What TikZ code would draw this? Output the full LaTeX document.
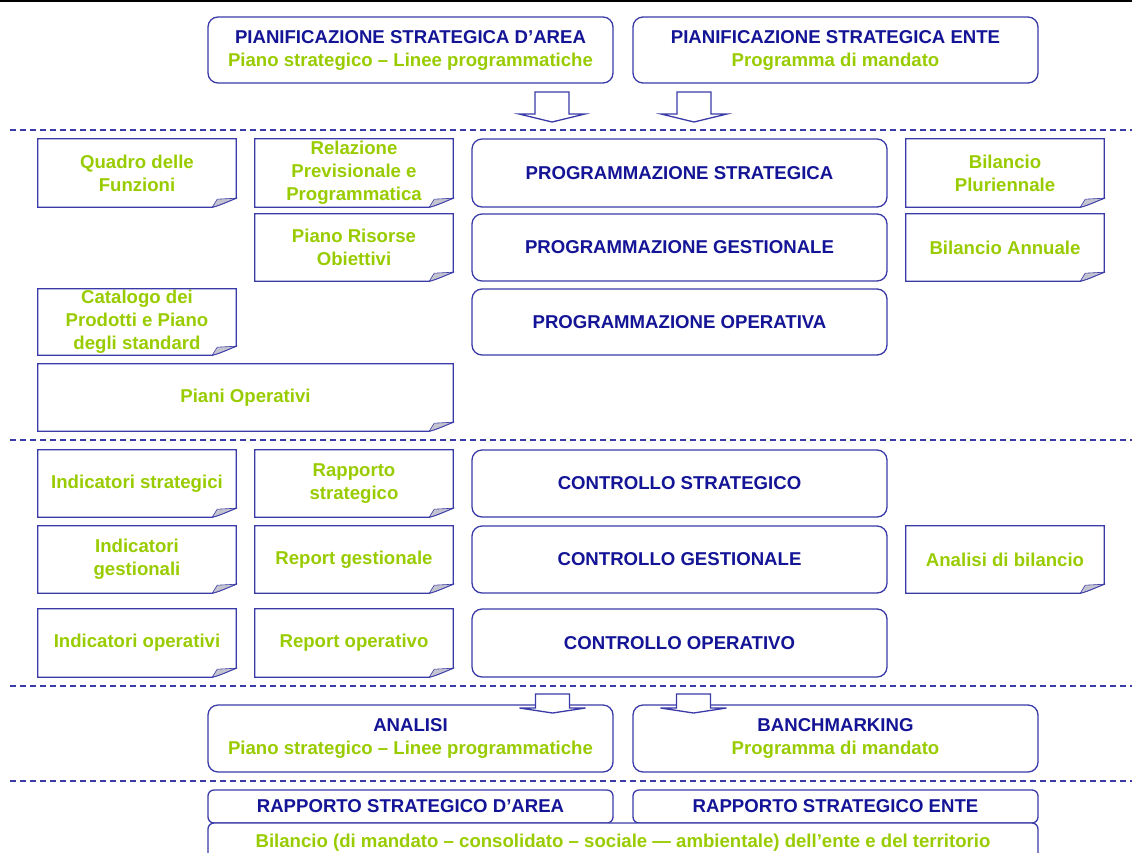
\documentclass[tikz,border=0pt]{standalone}
\usepackage{fontspec}
\setmainfont{Liberation Sans}
\usetikzlibrary{shapes,arrows}

\definecolor{titleblue}{RGB}{20,20,150}
\definecolor{leafgreen}{RGB}{153,204,0}
\definecolor{framecol}{RGB}{58,58,168}
\definecolor{flapgray}{RGB}{196,196,208}

\newcommand{\curl}[1]{%
  \draw[framecol, line width=1.3pt] (#1.north west) -- (#1.north east) -- ([yshift=9pt]#1.south east)
    .. controls ([xshift=-8pt,yshift=6pt]#1.south east) and ([xshift=-16pt,yshift=2pt]#1.south east) .. ([xshift=-24pt]#1.south east)
    -- (#1.south west) -- cycle;
  \filldraw[fill=flapgray, draw=framecol, line width=0.6pt] ([xshift=-24pt]#1.south east) -- ([xshift=-19pt,yshift=8pt]#1.south east) -- ([yshift=9pt]#1.south east)
    .. controls ([xshift=-8pt,yshift=6pt]#1.south east) and ([xshift=-16pt,yshift=2pt]#1.south east) .. ([xshift=-24pt]#1.south east) -- cycle;}
\newcommand{\blockarrow}[4]{%
  \filldraw[fill=white, draw=framecol, line width=1.3pt] (#1-17,#2) -- (#1+17,#2) -- (#1+17,#3) -- (#1+33,#3) -- (#1,#4) -- (#1-33,#3) -- (#1-17,#3) -- cycle;}

\begin{document}
\begin{tikzpicture}[x=1pt, y=-1pt, every node/.style={font=\bfseries\fontsize{18.6pt}{23pt}\selectfont, align=center}]
\tikzstyle{stagebox}=[draw=framecol, line width=1.3pt, rounded corners=10pt, inner sep=0pt, text=titleblue, fill=white]
\tikzstyle{sheet}=[inner sep=0pt, text=leafgreen, minimum width=198pt]
\tikzstyle{sepline}=[draw=framecol, line width=1.2pt, dash pattern=on 6pt off 4pt]

\clip (0,0) rectangle (1132,852);
\draw[line width=3pt] (0,0) -- (1132,0);

\node[stagebox, minimum width=405pt, minimum height=66pt] (PianA) at (410.5,50) {PIANIFICAZIONE STRATEGICA D’AREA\\\color{leafgreen}Piano strategico – Linee programmatiche};
\node[stagebox, minimum width=405pt, minimum height=66pt] (PianE) at (835.5,50) {PIANIFICAZIONE STRATEGICA ENTE\\\color{leafgreen}Programma di mandato};
\blockarrow{552}{92}{114}{122}
\blockarrow{694}{92}{114}{122}

\draw[sepline] (10,130) -- (1132,130);

\node[sheet, minimum height=68pt] (QuadroF) at (137,173) {Quadro delle\\Funzioni};
\node[sheet, minimum height=68pt] (RelPP) at (354,173) {Relazione\\Previsionale e\\Programmatica};
\node[stagebox, minimum width=415pt, minimum height=68pt] (ProgS) at (679.5,173) {PROGRAMMAZIONE STRATEGICA};
\node[sheet, minimum height=68pt] (BilP) at (1005,173) {Bilancio\\Pluriennale};

\node[sheet, minimum height=67pt] (PianoRO) at (354,247.5) {Piano Risorse\\Obiettivi};
\node[stagebox, minimum width=415pt, minimum height=67pt] (ProgG) at (679.5,247.5) {PROGRAMMAZIONE GESTIONALE};
\node[sheet, minimum height=67pt] (BilA) at (1005,247.5) {Bilancio Annuale};

\node[sheet, minimum height=66pt] (CatP) at (137,322) {Catalogo dei\\Prodotti e Piano\\degli standard};
\node[stagebox, minimum width=415pt, minimum height=66pt] (ProgO) at (679.5,322) {PROGRAMMAZIONE OPERATIVA};

\node[sheet, minimum width=415pt, minimum height=67pt] (PianiOp) at (245.5,397.5) {Piani Operativi};

\draw[sepline] (10,440) -- (1132,440);

\node[sheet, minimum height=67pt] (IndS) at (137,483.5) {Indicatori strategici};
\node[sheet, minimum height=67pt] (RapS) at (354,483.5) {Rapporto\\strategico};
\node[stagebox, minimum width=415pt, minimum height=67pt] (ContS) at (679.5,483.5) {CONTROLLO STRATEGICO};

\node[sheet, minimum height=67pt] (IndG) at (137,559.5) {Indicatori\\gestionali};
\node[sheet, minimum height=67pt] (RepG) at (354,559.5) {Report gestionale};
\node[stagebox, minimum width=415pt, minimum height=67pt] (ContG) at (679.5,559.5) {CONTROLLO GESTIONALE};
\node[sheet, minimum height=67pt] (AnBil) at (1005,559.5) {Analisi di bilancio};

\node[sheet, minimum height=68pt] (IndO) at (137,643) {Indicatori operativi};
\node[sheet, minimum height=68pt] (RepO) at (354,643) {Report operativo};
\node[stagebox, minimum width=415pt, minimum height=68pt] (ContO) at (679.5,643) {CONTROLLO OPERATIVO};

\foreach \n in {QuadroF,RelPP,BilP,PianoRO,BilA,CatP,PianiOp,IndS,RapS,IndG,RepG,AnBil,IndO,RepO}
  \curl{\n};

\draw[sepline] (10,686) -- (1132,686);

\node[stagebox, minimum width=405pt, minimum height=67pt] (Anal) at (410.5,738.5) {ANALISI\\\color{leafgreen}Piano strategico – Linee programmatiche};
\node[stagebox, minimum width=405pt, minimum height=67pt] (Banch) at (835.5,738.5) {BANCHMARKING\\\color{leafgreen}Programma di mandato};
\blockarrow{552.5}{694}{708}{713}
\blockarrow{693.5}{694}{708}{713}

\draw[sepline] (10,781) -- (1132,781);

\node[stagebox, rounded corners=6pt, minimum width=405pt, minimum height=33pt] (RapA) at (410.5,806.5) {RAPPORTO STRATEGICO D’AREA};
\node[stagebox, rounded corners=6pt, minimum width=405pt, minimum height=33pt] (RapE) at (835.5,806.5) {RAPPORTO STRATEGICO ENTE};
\node[stagebox, rounded corners=6pt, text=leafgreen, minimum width=830pt, minimum height=40pt] (BilT) at (623,843) {Bilancio (di mandato – consolidato – sociale — ambientale) dell’ente e del territorio};
\end{tikzpicture}
\end{document}
